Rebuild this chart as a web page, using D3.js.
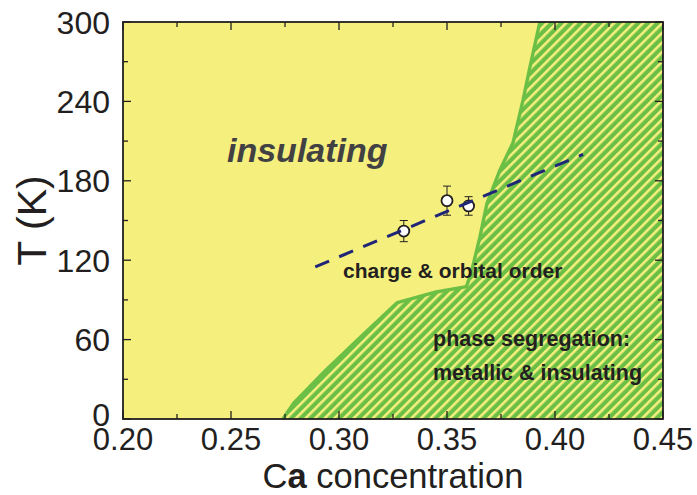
<!DOCTYPE html>
<html>
<head>
<meta charset="utf-8">
<script src="https://cdn.jsdelivr.net/npm/d3@7"></script>
<style>
  html, body { margin: 0; padding: 0; background: #fff; }
  svg { display: block; font-family: "Liberation Sans", Arial, Helvetica, sans-serif; }
</style>
</head>
<body>
<svg id="chart" width="697" height="495"></svg>
<script>
// Phase boundary between the insulating region and phase segregation
const boundaryX = [0.274, 0.279, 0.294, 0.310, 0.327, 0.345, 0.359, 0.3616, 0.3653, 0.3685, 0.3745, 0.3806, 0.3852, 0.3884, 0.393];
const boundaryT = [0, 12, 37, 62, 88, 96, 100, 113, 138, 163, 188, 209, 241, 266, 300];

// Measured charge/orbital ordering temperatures
const pointX = [0.33, 0.35, 0.36];
const pointT = [142, 165, 161];
const pointErr = [8, 11, 7];

// Guide line through the ordering transition
const guideX = [0.289, 0.413];
const guideT = [115, 200];

// Axis ticks
const xTicks = [0.20, 0.25, 0.30, 0.35, 0.40, 0.45];
const xMinor = [0.225, 0.275, 0.325, 0.375, 0.425];
const yTicks = [0, 60, 120, 180, 240, 300];
const yMinor = [30, 90, 150, 210, 270];

const yellow = "#f5ef7e";
const green = "#6cbf45";
const navy = "#1f2677";
const ink = "#231f20";

const margin = {left: 123, top: 22, right: 34, bottom: 76};
const W = 697, H = 495;
const w = W - margin.left - margin.right;
const h = H - margin.top - margin.bottom;

const x = d3.scaleLinear().domain([0.20, 0.45]).range([0, w]);
const y = d3.scaleLinear().domain([0, 300]).range([h, 0]);

const svg = d3.select("#chart");
const defs = svg.append("defs");

// Diagonal hatch for the phase-segregated region
const pat = defs.append("pattern")
  .attr("id", "hatch")
  .attr("patternUnits", "userSpaceOnUse")
  .attr("width", 6.8).attr("height", 10)
  .attr("patternTransform", "rotate(45)");
pat.append("rect").attr("width", 6.8).attr("height", 10).attr("fill", green);
pat.append("rect").attr("x", 0).attr("width", 2.6).attr("height", 10).attr("fill", yellow);

defs.append("clipPath").attr("id", "plotClip")
  .append("rect").attr("width", w).attr("height", h);

const g = svg.append("g").attr("transform", `translate(${margin.left},${margin.top})`);

// Background: insulating region
g.append("rect").attr("width", w).attr("height", h).attr("fill", yellow);

// Phase segregation region
const boundary = boundaryX.map((v, i) => [v, boundaryT[i]]);
const region = boundary.concat([[0.45, 300], [0.45, 0]]);
const plot = g.append("g").attr("clip-path", "url(#plotClip)");
plot.append("path")
  .attr("d", d3.line().x(d => x(d[0])).y(d => y(d[1]))(region) + "Z")
  .attr("fill", "url(#hatch)");
plot.append("path")
  .attr("d", d3.line().x(d => x(d[0])).y(d => y(d[1]))(boundary))
  .attr("fill", "none").attr("stroke", green).attr("stroke-width", 3.4)
  .attr("stroke-linejoin", "round");

// Error bars and points
const pts = pointX.map((v, i) => ({x: v, t: pointT[i], e: pointErr[i]}));
const pg = g.append("g");
pts.forEach(p => {
  const cx = x(p.x);
  pg.append("line").attr("x1", cx).attr("x2", cx)
    .attr("y1", y(p.t + p.e)).attr("y2", y(p.t - p.e))
    .attr("stroke", ink).attr("stroke-width", 1);
  [p.t + p.e, p.t - p.e].forEach(v => {
    pg.append("line").attr("x1", cx - 4).attr("x2", cx + 4)
      .attr("y1", y(v)).attr("y2", y(v))
      .attr("stroke", ink).attr("stroke-width", 1);
  });
  pg.append("circle").attr("cx", cx).attr("cy", y(p.t)).attr("r", 5.5)
    .attr("fill", "#fff").attr("stroke", ink).attr("stroke-width", 1.8);
});

// Dashed guide line
g.append("path")
  .attr("d", d3.line().x(d => x(d[0])).y(d => y(d[1]))(guideX.map((v, i) => [v, guideT[i]])))
  .attr("fill", "none").attr("stroke", navy).attr("stroke-width", 3)
  .attr("stroke-dasharray", "15,11");

// Region labels
g.append("text").attr("x", 104).attr("y", 140)
  .attr("font-size", 34).attr("font-weight", "bold").attr("font-style", "italic")
  .attr("fill", "#414143").text("insulating");
g.append("text").attr("x", 220).attr("y", 256)
  .attr("font-size", 21).attr("font-weight", "bold").attr("fill", ink)
  .text("charge & orbital order");
g.append("text").attr("x", 310).attr("y", 324)
  .attr("font-size", 21.5).attr("font-weight", "bold").attr("fill", ink)
  .text("phase segregation:");
g.append("text").attr("x", 310).attr("y", 358)
  .attr("font-size", 21.5).attr("font-weight", "bold").attr("fill", ink)
  .text("metallic & insulating");

// Ticks on all four sides, pointing inward
const tk = g.append("g").attr("stroke", ink).attr("stroke-width", 1.3);
const major = 8, minor = 5;
xTicks.concat(xMinor).forEach(v => {
  const len = xTicks.includes(v) ? major : minor;
  tk.append("line").attr("x1", x(v)).attr("x2", x(v)).attr("y1", h).attr("y2", h - len);
  tk.append("line").attr("x1", x(v)).attr("x2", x(v)).attr("y1", 0).attr("y2", len);
});
yTicks.concat(yMinor).forEach(v => {
  const len = yTicks.includes(v) ? major : minor;
  tk.append("line").attr("y1", y(v)).attr("y2", y(v)).attr("x1", 0).attr("x2", len);
  tk.append("line").attr("y1", y(v)).attr("y2", y(v)).attr("x1", w).attr("x2", w - len);
});

// Frame
g.append("rect").attr("width", w).attr("height", h)
  .attr("fill", "none").attr("stroke", ink).attr("stroke-width", 1.8);

// Tick labels
g.selectAll(".xl").data(xTicks).enter().append("text")
  .attr("x", d => x(d)).attr("y", h + 31)
  .attr("text-anchor", "middle").attr("font-size", 31).attr("fill", ink)
  .text(d => d3.format(".2f")(d));
g.selectAll(".yl").data(yTicks).enter().append("text")
  .attr("x", -13).attr("y", d => y(d)).attr("dy", d => d === 0 ? "0.22em" : "0.36em")
  .attr("text-anchor", "end").attr("font-size", 32).attr("fill", ink)
  .text(d => d);

// Axis titles
const xt = svg.append("text")
  .attr("x", margin.left + w / 2).attr("y", 487.5)
  .attr("text-anchor", "middle").attr("font-size", 34.5).attr("fill", ink);
xt.append("tspan").text("C");
xt.append("tspan").attr("font-weight", "bold").text("a");
xt.append("tspan").text(" concentration");

svg.append("text")
  .attr("transform", `translate(46,${margin.top + h / 2}) rotate(-90)`)
  .attr("text-anchor", "middle").attr("font-size", 41).attr("fill", ink)
  .text("T (K)");
</script>
</body>
</html>
